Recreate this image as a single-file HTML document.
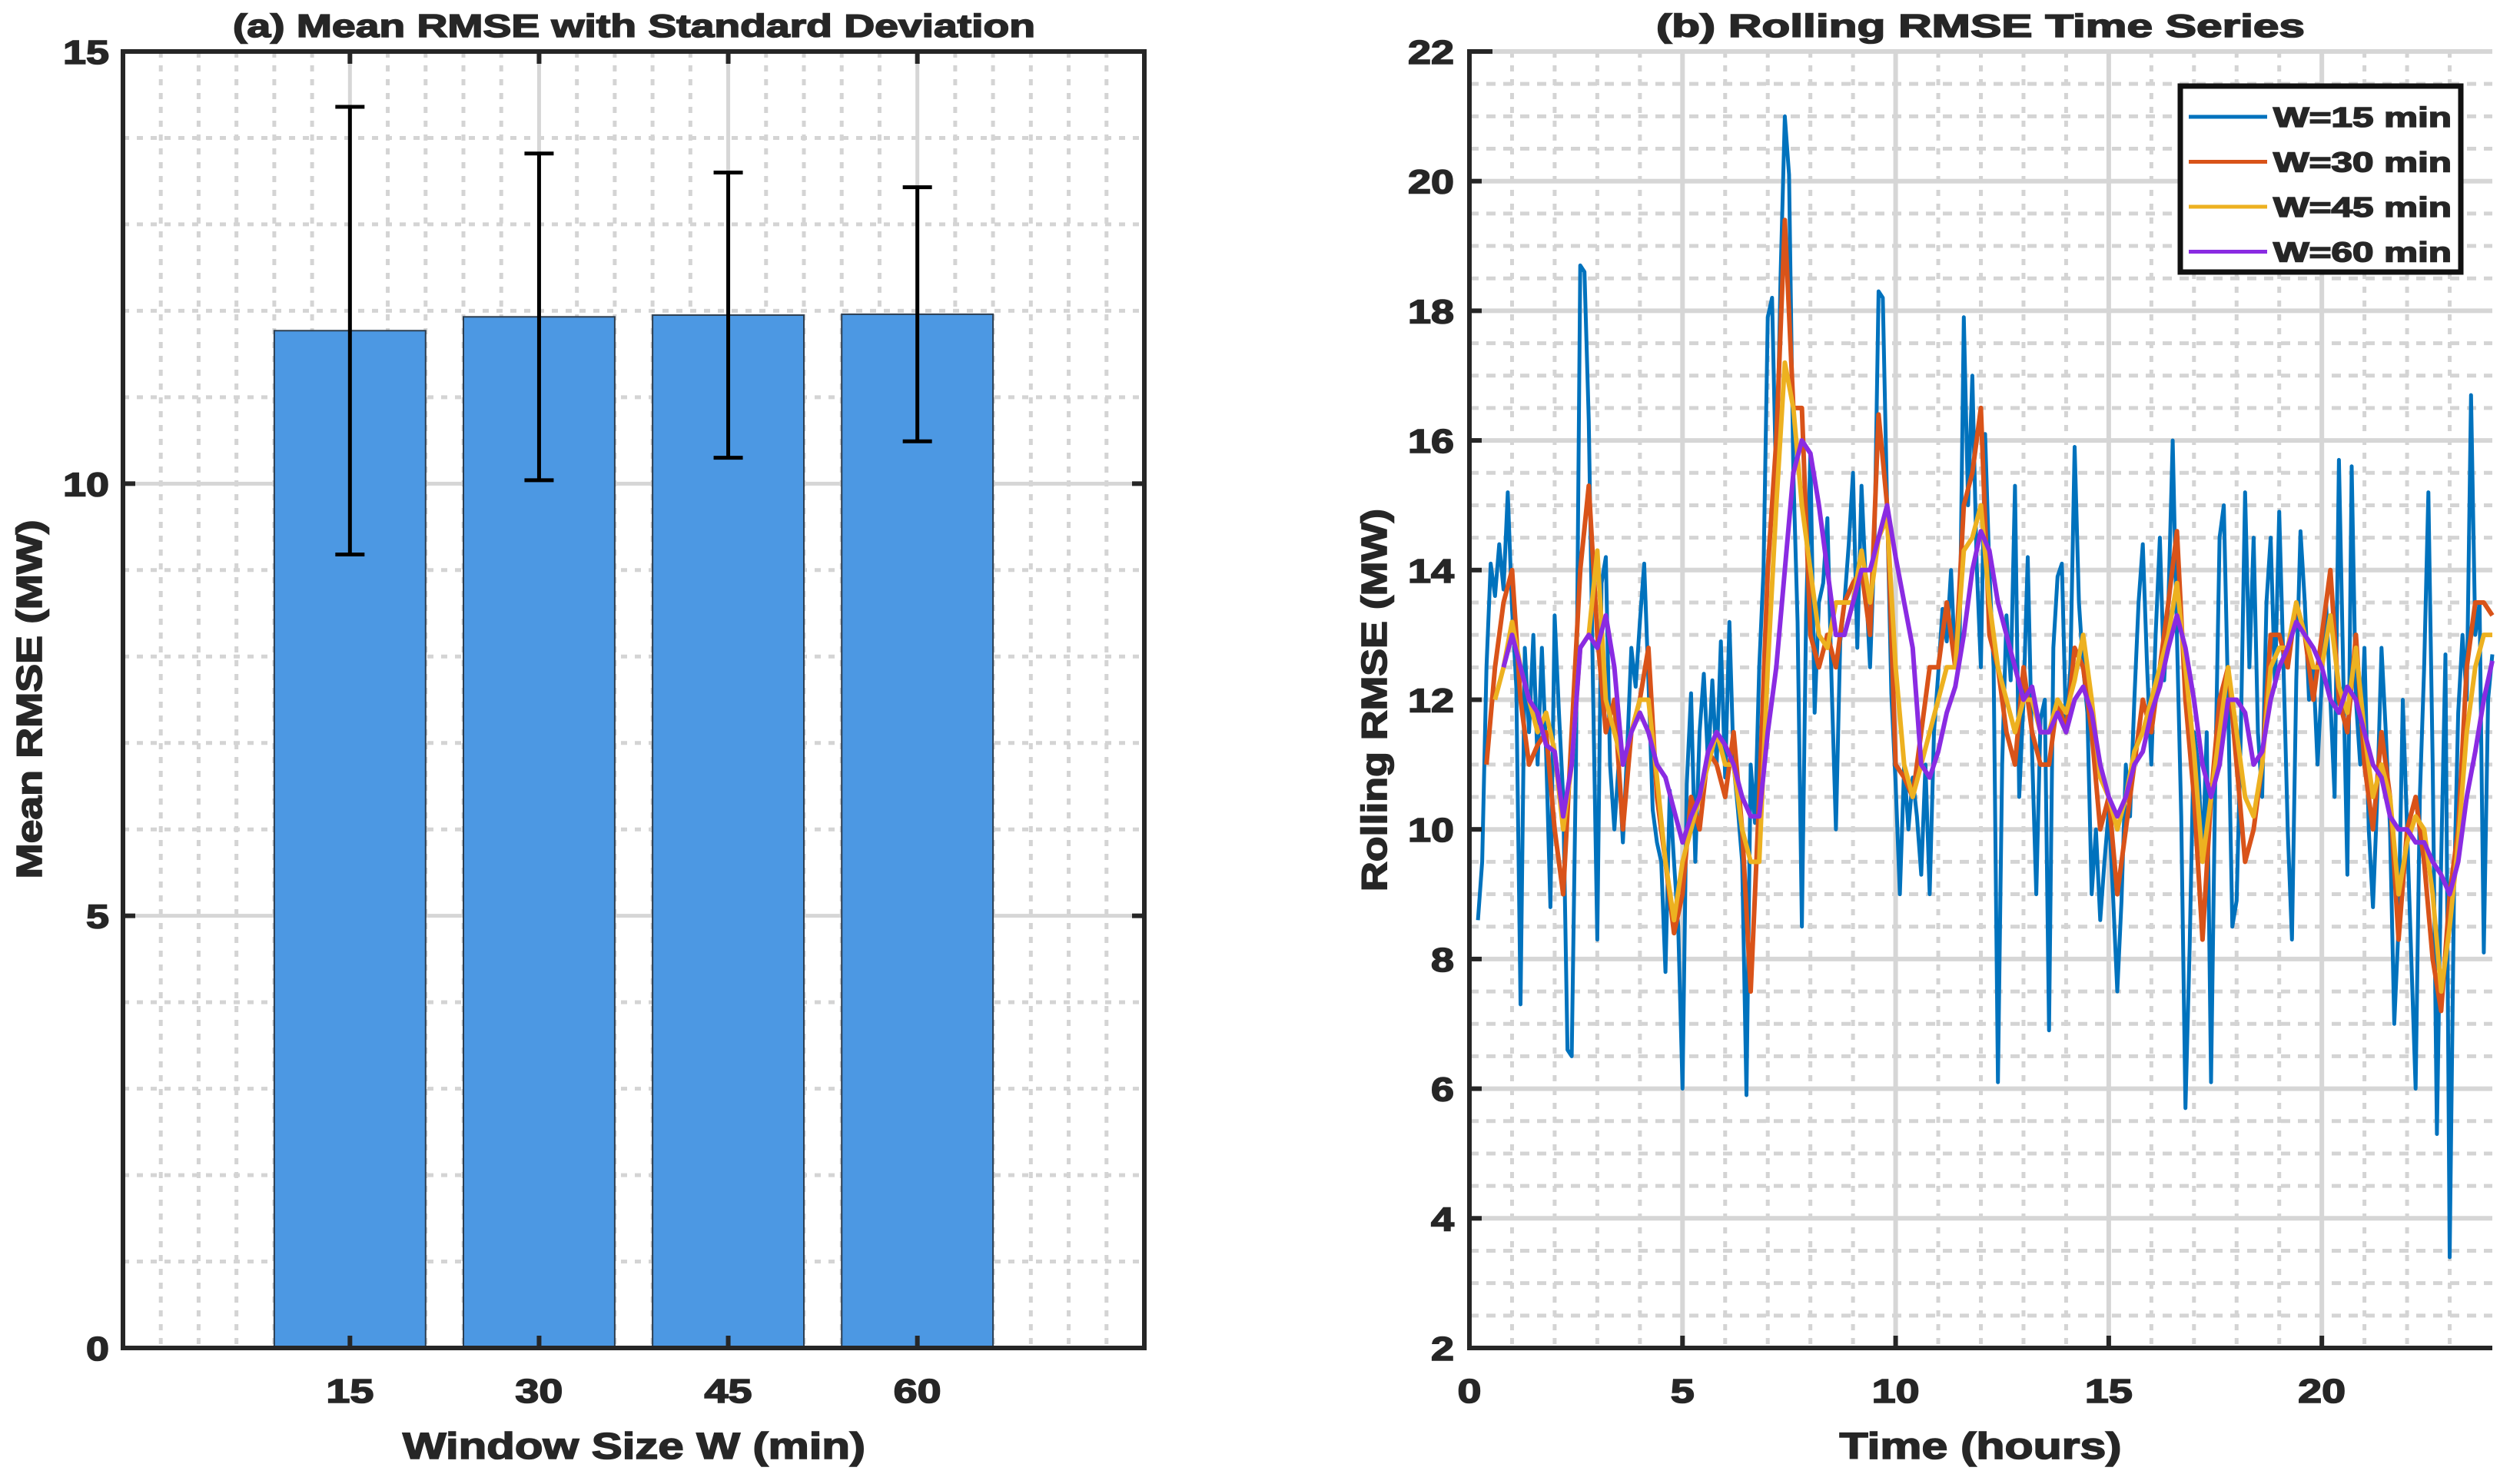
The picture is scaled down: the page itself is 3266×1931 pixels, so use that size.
<!DOCTYPE html>
<html><head><meta charset="utf-8"><style>
html,body{margin:0;padding:0;background:#fff}
svg{display:block}
text{font-family:"Liberation Sans",Arial,sans-serif;font-weight:bold;fill:#262626;stroke:#262626;stroke-width:1.6px}
</style></head><body>
<svg id="fig" width="3266" height="1931" viewBox="0 0 3266 1931" xmlns="http://www.w3.org/2000/svg"></svg>
<script>
// ---------- Panel (a) data ----------
const barCategories = ["15","30","45","60"];
const barMeans = [11.77, 11.93, 11.95, 11.96];
const barStds = [2.59, 1.89, 1.65, 1.47];
const barYTicks = [0,5,10,15];

// ---------- Panel (b) data ----------
const xTicksB = [0,5,10,15,20];
const yTicksB = [2,4,6,8,10,12,14,16,18,20,22];
const legendLabels = ["W=15 min","W=30 min","W=45 min","W=60 min"];
const w15Start = 0.2, w15Step = 0.1;
const w15 = [8.6,9.5,12.5,14.1,13.6,14.4,13.7,15.2,13.4,12.2,7.3,12.8,11.5,13.0,11.0,12.8,11.2,8.8,13.3,11.8,10.5,6.6,6.5,11.0,18.7,18.6,16.3,12.2,8.3,13.8,14.2,11.0,10.0,11.0,9.8,11.2,12.8,12.2,13.2,14.1,12.3,10.3,9.8,9.5,7.8,10.6,9.5,8.5,6.0,10.7,12.1,9.5,11.5,12.4,11.0,12.3,11.0,12.9,10.8,13.2,11.0,10.3,9.5,5.9,11.0,10.1,12.5,14.0,17.9,18.2,15.2,18.5,21.0,20.1,15.5,13.2,8.5,13.3,15.8,11.8,13.5,13.8,14.8,12.2,10.0,12.9,13.5,14.4,15.5,12.8,15.3,13.8,12.5,14.3,18.3,18.2,15.0,12.1,10.7,9.0,11.0,10.0,10.8,10.2,9.3,11.0,9.0,11.5,12.4,13.4,12.9,14.0,12.5,12.8,17.9,15.0,17.0,14.1,12.5,16.1,14.0,12.5,6.1,11.0,13.3,12.3,15.3,10.5,12.0,14.2,11.2,9.0,11.7,12.0,6.9,12.8,13.9,14.1,11.5,12.5,15.9,13.5,12.5,11.8,9.0,10.0,8.6,9.5,10.3,9.0,7.5,8.9,11.0,10.2,12.0,13.5,14.4,12.5,11.0,13.0,14.5,12.3,13.5,16.0,13.0,10.2,5.7,8.2,11.5,11.0,9.5,11.5,6.1,10.8,14.5,15.0,12.0,8.5,8.9,11.5,15.2,12.5,14.5,11.5,10.5,13.5,14.5,12.2,14.9,12.5,10.0,8.3,12.3,14.6,13.5,12.0,12.5,11.0,12.3,13.5,12.0,10.5,15.7,12.5,9.3,15.6,12.0,11.0,12.8,10.0,8.8,10.5,12.8,11.5,10.0,7.0,8.5,12.0,10.0,8.0,6.0,10.5,12.5,15.2,11.0,5.3,9.5,12.7,3.4,9.0,11.8,13.0,12.0,16.7,13.0,13.5,8.1,12.0,12.7];
const w30Start = 0.4, w30Step = 0.2;
const w30 = [11.0,12.5,13.5,14.0,12.0,11.0,11.3,11.5,10.0,9.0,11.5,14.0,15.3,13.0,11.5,12.0,10.0,11.5,12.0,12.8,10.5,9.5,8.4,9.0,10.5,10.0,11.2,11.0,10.5,11.5,10.0,7.5,10.5,14.0,16.0,19.4,16.5,16.5,13.0,12.5,13.0,12.5,13.5,13.8,14.0,13.0,16.4,15.0,11.0,10.8,10.5,11.5,12.5,12.5,13.5,12.5,15.0,15.5,16.5,13.0,12.5,11.5,11.0,12.5,11.5,11.0,11.0,12.0,11.5,12.8,12.5,11.5,10.0,10.5,9.0,10.0,11.0,12.0,11.5,12.5,13.5,14.6,12.0,10.5,8.3,10.5,12.0,12.5,11.0,9.5,10.0,11.0,13.0,13.0,12.5,13.5,13.0,12.0,13.0,14.0,12.0,11.5,13.0,11.0,10.0,11.5,10.5,8.3,10.0,10.5,9.5,8.0,7.2,9.0,10.0,12.5,13.5,13.5,13.3];
const w45Start = 0.6, w45Step = 0.2;
const w45 = [12.0,12.5,13.2,12.5,12.0,11.5,11.8,11.2,10.0,11.0,12.8,13.0,14.3,12.0,11.5,11.0,11.5,12.0,12.0,10.8,9.5,8.6,9.5,10.0,10.5,11.0,11.5,11.0,11.0,10.0,9.5,9.5,12.5,15.0,17.2,16.5,15.0,14.0,13.0,12.8,13.5,13.5,13.5,14.3,13.5,14.5,14.8,12.5,11.0,10.5,11.0,11.5,12.0,12.5,12.5,14.3,14.5,15.0,13.5,12.5,12.0,11.5,12.0,12.0,11.5,11.5,12.0,11.8,12.3,13.0,12.0,10.8,10.5,10.0,10.5,11.2,11.5,12.0,12.5,13.0,13.8,12.5,11.2,9.5,10.5,11.5,12.5,11.5,10.5,10.2,11.0,12.5,12.8,12.8,13.5,13.0,12.5,12.5,13.3,12.2,11.8,12.8,11.5,10.5,11.0,10.5,9.0,9.8,10.2,10.0,9.0,7.5,8.5,9.8,11.5,12.5,13.0,13.0];
const w60Start = 0.8, w60Step = 0.2;
const w60 = [12.5,13.0,12.5,12.0,11.8,11.3,11.2,10.2,11.0,12.8,13.0,12.8,13.3,12.5,11.0,11.5,11.8,11.5,11.0,10.8,10.3,9.8,10.2,10.5,11.2,11.5,11.3,11.0,10.5,10.2,10.2,11.5,12.5,14.0,15.5,16.0,15.8,15.0,14.0,13.0,13.0,13.5,14.0,14.0,14.5,15.0,14.2,13.5,12.8,11.0,10.8,11.2,11.8,12.2,13.0,14.0,14.6,14.3,13.5,13.0,12.5,12.0,12.2,11.5,11.5,11.8,11.5,12.0,12.2,11.8,11.0,10.5,10.2,10.5,11.0,11.2,11.8,12.2,12.8,13.3,12.8,12.0,11.0,10.5,11.0,12.0,12.0,11.8,11.0,11.2,12.0,12.5,12.8,13.2,13.0,12.8,12.5,12.0,11.8,12.2,12.0,11.5,11.0,10.8,10.2,10.0,10.0,9.8,9.8,9.5,9.3,9.0,9.5,10.5,11.2,12.0,12.6];

const NS = "http://www.w3.org/2000/svg";
const svg = document.getElementById('fig');
function el(tag, attrs, parent, txt){
  const e = document.createElementNS(NS, tag);
  for (const k in attrs) e.setAttribute(k, attrs[k]);
  if (txt !== undefined) e.textContent = txt;
  (parent || svg).appendChild(e);
  return e;
}
const AX = '#262626', GRID = '#d6d6d6', MINOR = '#d4d4d4';

// ================= Panel (a) =================
const A = {l:160, r:1489, t:67, b:1754, xmin:-0.2, xmax:5.2, ymin:0, ymax:15};
const ax = v => A.l + (v - A.xmin) / (A.xmax - A.xmin) * (A.r - A.l);
const ay = v => A.b - (v - A.ymin) / (A.ymax - A.ymin) * (A.b - A.t);
const gA = el('g', {});


for (let i = 1; i < 27; i++) {
  const v = A.xmin + i * 0.2;
  if (Math.abs(v - Math.round(v)) < 1e-6 && v >= 1 && v <= 4) continue;
  const gl = el('line', {x1:ax(v), x2:ax(v), y1:A.t, y2:A.b, stroke:MINOR, 'stroke-width':5, 'stroke-dasharray':'8 10'}, gA);
  
  
}
for (let v = 1; v < 15; v++) {
  if (v % 5 === 0) continue;
  const gl = el('line', {x1:A.l, x2:A.r, y1:ay(v), y2:ay(v), stroke:MINOR, 'stroke-width':5, 'stroke-dasharray':'8 10'}, gA);
  
  
}
barYTicks.forEach(v => {
  const gl = el('line', {x1:A.l, x2:A.r, y1:ay(v), y2:ay(v), stroke:GRID, 'stroke-width':5}, gA);
  
  
});
barCategories.forEach((c, i) => {
  const gl = el('line', {x1:ax(i+1), x2:ax(i+1), y1:A.t, y2:A.b, stroke:GRID, 'stroke-width':5}, gA);
  
  
});
barMeans.forEach((m, i) => {
  const x0 = ax(i + 1 - 0.4), x1 = ax(i + 1 + 0.4);
  const b = el('rect', {x:x0, y:ay(m), width:x1 - x0, height:ay(0) - ay(m), fill:'#4c98e3', stroke:'#2d3e50', 'stroke-width':2}, gA);
  
  
});
barMeans.forEach((m, i) => {
  const cx = ax(i + 1), lo = ay(m - barStds[i]), hi = ay(m + barStds[i]);
  const g = el('g', {stroke:'#000', 'stroke-width':5}, gA);
  
  
  el('line', {x1:cx, x2:cx, y1:lo, y2:hi}, g);
  el('line', {x1:cx-19, x2:cx+19, y1:lo, y2:lo}, g);
  el('line', {x1:cx-19, x2:cx+19, y1:hi, y2:hi}, g);
});
barYTicks.forEach(v => {
  el('line', {x1:A.l, x2:A.l+16, y1:ay(v), y2:ay(v), stroke:AX, 'stroke-width':6}, gA);
  el('line', {x1:A.r, x2:A.r-16, y1:ay(v), y2:ay(v), stroke:AX, 'stroke-width':6}, gA);
  const t = el('text', {x:142, y:ay(v)+16, 'text-anchor':'end', 'font-size':44, textLength:String(v).length*30, lengthAdjust:'spacingAndGlyphs'}, gA, String(v));
  
  
});
barCategories.forEach((c, i) => {
  el('line', {x1:ax(i+1), x2:ax(i+1), y1:A.b, y2:A.b-16, stroke:AX, 'stroke-width':6}, gA);
  el('line', {x1:ax(i+1), x2:ax(i+1), y1:A.t, y2:A.t+16, stroke:AX, 'stroke-width':6}, gA);
  const t = el('text', {x:ax(i+1), y:1825, 'text-anchor':'middle', 'font-size':44, textLength:62, lengthAdjust:'spacingAndGlyphs'}, gA, c);
  
  
});
const boxA = el('rect', {x:A.l, y:A.t, width:A.r-A.l, height:A.b-A.t, fill:'none', stroke:AX, 'stroke-width':6}, gA);


let t;
t = el('text', {x:825, y:48, 'text-anchor':'middle', 'font-size':42, textLength:1044, lengthAdjust:'spacingAndGlyphs'}, gA, '(a) Mean RMSE with Standard Deviation');


t = el('text', {x:825, y:1898, 'text-anchor':'middle', 'font-size':48, textLength:602, lengthAdjust:'spacingAndGlyphs'}, gA, 'Window Size W (min)');


t = el('text', {x:0, y:0, 'text-anchor':'middle', 'font-size':46, textLength:467, lengthAdjust:'spacingAndGlyphs', transform:'translate(54,910) rotate(-90)'}, gA, 'Mean RMSE (MW)');



// ================= Panel (b) =================
const B = {l:1912, r:3243, t:67, b:1754, xmin:0, xmax:24, ymin:2, ymax:22};
const bx = v => B.l + (v - B.xmin) / (B.xmax - B.xmin) * (B.r - B.l);
const by = v => B.b - (v - B.ymin) / (B.ymax - B.ymin) * (B.b - B.t);
const gB = el('g', {});


for (let v = 1; v < 24; v++) {
  if (v % 5 === 0) continue;
  const gl = el('line', {x1:bx(v), x2:bx(v), y1:B.t, y2:B.b, stroke:MINOR, 'stroke-width':5, 'stroke-dasharray':'8 10'}, gB);
  
  
}
for (let v = 2.5; v < 22; v += 0.5) {
  if (Math.abs(v % 2) < 1e-6) continue;
  const gl = el('line', {x1:B.l, x2:B.r, y1:by(v), y2:by(v), stroke:MINOR, 'stroke-width':5, 'stroke-dasharray':'12 10'}, gB);
  
  
}
xTicksB.forEach(v => {
  const gl = el('line', {x1:bx(v), x2:bx(v), y1:B.t, y2:B.b, stroke:GRID, 'stroke-width':6}, gB);
  
  
});
yTicksB.forEach(v => {
  const gl = el('line', {x1:B.l, x2:B.r, y1:by(v), y2:by(v), stroke:GRID, 'stroke-width':6}, gB);
  
  
});
const seriesDefs = [
  {vals:w15, start:w15Start, step:w15Step, color:'#0072bd', w:5, name:'line-w15'},
  {vals:w30, start:w30Start, step:w30Step, color:'#d95319', w:6, name:'line-w30'},
  {vals:w45, start:w45Start, step:w45Step, color:'#edb120', w:6, name:'line-w45'},
  {vals:w60, start:w60Start, step:w60Step, color:'#8a2be2', w:6, name:'line-w60'}
];
seriesDefs.forEach(s => {
  const pts = s.vals.map((v, i) => bx(s.start + i * s.step).toFixed(1) + ',' + by(v).toFixed(1)).join(' ');
  const p = el('polyline', {points:pts, fill:'none', stroke:s.color, 'stroke-width':s.w, 'stroke-linejoin':'round'}, gB);
  
  
});
yTicksB.forEach(v => {
  el('line', {x1:B.l, x2:B.l+16, y1:by(v), y2:by(v), stroke:AX, 'stroke-width':6}, gB);
  const t = el('text', {x:1892, y:by(v)+16, 'text-anchor':'end', 'font-size':44, textLength:String(v).length*30, lengthAdjust:'spacingAndGlyphs'}, gB, String(v));
  
  
});
xTicksB.forEach(v => {
  el('line', {x1:bx(v), x2:bx(v), y1:B.b, y2:B.b-16, stroke:AX, 'stroke-width':6}, gB);
  const t = el('text', {x:bx(v), y:1825, 'text-anchor':'middle', 'font-size':44, textLength:String(v).length*31, lengthAdjust:'spacingAndGlyphs'}, gB, String(v));
  
  
});
el('line', {x1:B.l, x2:B.l, y1:B.t-3, y2:B.b+3, stroke:AX, 'stroke-width':6}, gB);
el('line', {x1:B.l-3, x2:B.r, y1:B.b, y2:B.b, stroke:AX, 'stroke-width':6}, gB);
el('line', {x1:B.l, x2:B.l+30, y1:B.t, y2:B.t, stroke:AX, 'stroke-width':6}, gB);
t = el('text', {x:2577, y:48, 'text-anchor':'middle', 'font-size':42, textLength:844, lengthAdjust:'spacingAndGlyphs'}, gB, '(b) Rolling RMSE Time Series');


t = el('text', {x:2577, y:1898, 'text-anchor':'middle', 'font-size':48, textLength:367, lengthAdjust:'spacingAndGlyphs'}, gB, 'Time (hours)');


t = el('text', {x:0, y:0, 'text-anchor':'middle', 'font-size':46, textLength:498, lengthAdjust:'spacingAndGlyphs', transform:'translate(1804,911) rotate(-90)'}, gB, 'Rolling RMSE (MW)');


const lg = el('g', {}, gB);


el('rect', {x:2837, y:112, width:365, height:242, fill:'#fff', stroke:'#111', 'stroke-width':7}, lg);
legendLabels.forEach((lab, i) => {
  const y = 152 + i * 58.5;
  const g = el('g', {}, lg);
  
  
  el('line', {x1:2848, x2:2950, y1:y, y2:y, stroke:seriesDefs[i].color, 'stroke-width':5}, g);
  el('text', {x:2958, y:y+13, 'font-size':36, textLength:232, lengthAdjust:'spacingAndGlyphs'}, g, lab);
});
</script>
</body></html>
